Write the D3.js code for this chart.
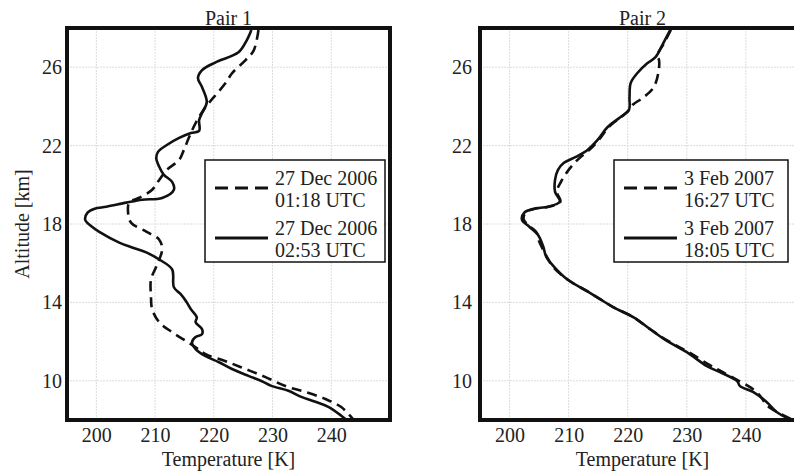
<!DOCTYPE html>
<html>
<head>
<meta charset="utf-8">
<script src="https://cdn.jsdelivr.net/npm/d3@7"></script>
<style>
  html, body { margin: 0; padding: 0; background: #fff; overflow: hidden; }
  svg { display: block; }
  text { font-family: "Liberation Serif", "Times New Roman", "DejaVu Serif", serif; fill: #222; }
</style>
</head>
<body>
<svg id="chart" width="794" height="472"></svg>
<script>
// ---- data ----
const xTicks = [200, 210, 220, 230, 240];
const yTicks = [10, 14, 18, 22, 26];
const panelTitles = ["Pair 1", "Pair 2"];
const legend1 = [["27 Dec 2006", "01:18 UTC"], ["27 Dec 2006", "02:53 UTC"]];
const legend2 = [["3 Feb 2007", "16:27 UTC"], ["3 Feb 2007", "18:05 UTC"]];

// Pair 1, 01:18 UTC (dashed): [temperature K, altitude km]
const pair1Dashed = [
  [227.6,27.9],[226.8,26.86],[225.4,26.36],[223.1,25.69],[222.0,25.19],[220.0,24.47],
  [218.6,23.97],[216.9,23.15],[215.8,22.44],[214.9,21.78],[214.1,21.27],[212.0,20.76],
  [210.7,20.25],[209.5,19.75],[207.3,19.34],[205.6,19.09],[205.4,18.58],[205.9,18.07],
  [208.5,17.61],[210.7,17.2],[211.2,16.7],[210.2,15.83],[209.3,15.17],[209.3,14.31],
  [209.5,13.65],[210.7,12.99],[212.9,12.48],[215.3,12.02],[216.9,11.71],[218.6,11.36],
  [222.0,11.0],[225.4,10.6],[228.8,10.19],[232.2,9.73],[235.6,9.43],[239.0,9.07],
  [241.7,8.66],[243.7,8.05]
];
// Pair 1, 02:53 UTC (solid)
const pair1Solid = [
  [226.4,27.9],[225.6,27.37],[224.2,26.76],[220.3,26.25],[218.0,25.85],[217.3,25.44],
  [218.0,24.98],[218.8,24.22],[218.0,23.66],[217.5,23.3],[217.5,22.75],[216.1,22.64],
  [214.1,22.39],[212.0,22.03],[210.5,21.68],[210.2,21.37],[210.7,20.92],[211.5,20.51],
  [212.9,20.15],[213.2,19.75],[211.2,19.33],[207.8,19.24],[205.1,19.09],[201.7,18.88],
  [199.7,18.78],[198.5,18.58],[198.1,18.22],[199.2,17.87],[200.5,17.6],[203.9,17.05],
  [206.1,16.8],[208.5,16.55],[210.7,16.19],[212.9,15.68],[213.2,14.77],[214.4,14.41],
  [215.3,14.05],[216.1,13.65],[217.1,13.24],[216.9,12.99],[218.0,12.63],[218.0,12.38],
  [216.9,12.23],[216.3,11.97],[216.9,11.62],[218.6,11.26],[220.8,10.96],[223.1,10.6],
  [225.9,10.25],[228.1,9.99],[229.8,9.74],[232.7,9.49],[234.9,9.18],[237.3,8.93],
  [239.5,8.67],[241.7,8.22],[242.4,8.05]
];
// Pair 2, 16:27 UTC (dashed)
const pair2Dashed = [
  [227.3,27.9],[226.1,27.2],[225.0,26.6],[225.3,26.36],[225.2,25.75],[224.4,24.98],
  [222.7,24.47],[220.8,24.07],[220.2,23.81],[218.9,23.46],[216.8,22.95],[215.1,22.29],
  [213.5,21.78],[211.6,21.3],[210.0,20.76],[208.7,20.15],[208.0,19.64],[208.6,19.14],
  [206.6,18.88],[204.2,18.78],[202.7,18.58],[202.4,18.22],[203.5,17.87],[204.6,17.56],
  [204.9,17.2],[205.4,16.85],[206.3,16.34],[207.3,15.83],[209.8,15.17],[213.2,14.56],
  [215.4,14.15],[217.6,13.75],[221.0,13.24],[223.8,12.63],[226.9,12.02],[230.3,11.46],
  [233.9,10.8],[236.1,10.44],[238.8,10.0],[240.7,9.68],[242.3,9.27],[243.7,8.71],
  [245.6,8.35],[247.6,8.05]
];
// Pair 2, 18:05 UTC (solid)
const pair2Solid = [
  [227.2,27.9],[226.0,27.22],[224.7,26.51],[223.3,26.2],[221.6,25.69],[220.5,25.19],
  [220.3,24.47],[220.2,23.81],[218.8,23.46],[216.6,22.95],[214.9,22.29],[213.2,21.78],
  [211.2,21.42],[209.2,21.12],[208.2,20.76],[207.7,20.25],[207.7,19.64],[208.5,19.14],
  [206.5,18.88],[204.2,18.78],[202.5,18.58],[202.1,18.22],[203.3,17.87],[204.8,17.45],
  [205.7,16.85],[206.2,16.34],[207.5,15.83],[209.8,15.17],[213.2,14.56],[215.4,14.15],
  [217.6,13.75],[221.0,13.24],[223.8,12.63],[226.7,12.02],[230.0,11.46],[233.4,10.75],
  [235.6,10.44],[238.5,9.99],[239.0,9.73],[241.2,9.43],[243.5,8.92],[245.2,8.41],
  [247.4,8.05]
];

// ---- layout ----
const svg = d3.select("#chart");
const panels = [
  { left: 67, right: 390, title: panelTitles[0], dashed: pair1Dashed, solid: pair1Solid, legend: legend1, legX: 205, legW: 180, yPad: 5 },
  { left: 480, right: 805, title: panelTitles[1], dashed: pair2Dashed, solid: pair2Solid, legend: legend2, legX: 614, legW: 174, yPad: 8 }
];
const plotTop = 28, plotBottom = 420;
const fs = 20;
const serif = "Liberation Serif, Times New Roman, serif";

panels.forEach((p, i) => {
  const x = d3.scaleLinear().domain([195, 250]).range([p.left, p.right]);
  const y = d3.scaleLinear().domain([8, 28]).range([plotBottom, plotTop]);
  const g = svg.append("g");

  // grid
  g.append("g").selectAll("line").data(xTicks).join("line")
    .attr("x1", d => x(d)).attr("x2", d => x(d)).attr("y1", plotTop).attr("y2", plotBottom)
    .attr("stroke", "#dcdcdc").attr("stroke-width", 1).attr("stroke-dasharray", "2,1");
  g.append("g").selectAll("line").data(yTicks).join("line")
    .attr("x1", p.left).attr("x2", p.right).attr("y1", d => y(d)).attr("y2", d => y(d))
    .attr("stroke", "#dcdcdc").attr("stroke-width", 1).attr("stroke-dasharray", "2,1");

  // axes
  const xa = g.append("g").attr("transform", `translate(0,${plotBottom})`)
    .call(d3.axisBottom(x).tickValues(xTicks).tickSize(0).tickPadding(8).tickFormat(d3.format("d")));
  xa.select(".domain").remove();
  xa.attr("font-family", serif).attr("font-size", fs);
  xa.selectAll("text").attr("fill", "#222");

  const ya = g.append("g").attr("transform", `translate(${p.left - p.yPad},0)`)
    .call(d3.axisLeft(y).tickValues(yTicks).tickSize(0).tickPadding(0).tickFormat(d3.format("d")));
  ya.select(".domain").remove();
  ya.attr("font-family", serif).attr("font-size", fs);
  ya.selectAll("text").attr("fill", "#222");

  // lines
  const line = d3.line().x(d => x(d[0])).y(d => y(d[1])).curve(d3.curveCatmullRom.alpha(0.5));
  const clipId = "clip" + i;
  g.append("clipPath").attr("id", clipId).append("rect")
    .attr("x", p.left).attr("y", plotTop).attr("width", p.right - p.left).attr("height", plotBottom - plotTop);
  const lg = g.append("g").attr("clip-path", `url(#${clipId})`);
  lg.append("path").datum(p.dashed).attr("d", line).attr("fill", "none")
    .attr("stroke", "#111").attr("stroke-width", 2.6).attr("stroke-dasharray", "10,6");
  lg.append("path").datum(p.solid).attr("d", line).attr("fill", "none")
    .attr("stroke", "#111").attr("stroke-width", 2.6);

  // frame
  g.append("rect").attr("x", p.left).attr("y", plotTop)
    .attr("width", p.right - p.left).attr("height", plotBottom - plotTop)
    .attr("fill", "none").attr("stroke", "#111").attr("stroke-width", 4);

  // title
  g.append("text").attr("x", (p.left + p.right) / 2).attr("y", 25)
    .attr("text-anchor", "middle").attr("font-size", fs).text(p.title);

  // x label
  g.append("text").attr("x", (p.left + p.right) / 2).attr("y", 466)
    .attr("text-anchor", "middle").attr("font-size", fs).text("Temperature [K]");

  // legend
  const lgx = p.legX, lgy = 160, lgh = 102;
  g.append("rect").attr("x", lgx).attr("y", lgy).attr("width", p.legW).attr("height", lgh)
    .attr("fill", "#fff").attr("stroke", "#111").attr("stroke-width", 1.5);
  p.legend.forEach((lines, k) => {
    const by = lgy + 28 + k * 50;
    const ln = g.append("line").attr("x1", lgx + 10).attr("x2", lgx + 63)
      .attr("y1", by).attr("y2", by).attr("stroke", "#111").attr("stroke-width", 2.8);
    if (k === 0) ln.attr("stroke-dasharray", "13,7");
    g.append("text").attr("x", lgx + 70).attr("y", by - 3).attr("font-size", fs).text(lines[0]);
    g.append("text").attr("x", lgx + 70).attr("y", by + 19).attr("font-size", fs).text(lines[1]);
  });
});

// y label
svg.append("text").attr("transform", "translate(29,224) rotate(-90)")
  .attr("text-anchor", "middle").attr("font-size", fs).text("Altitude [km]");
</script>
</body>
</html>
